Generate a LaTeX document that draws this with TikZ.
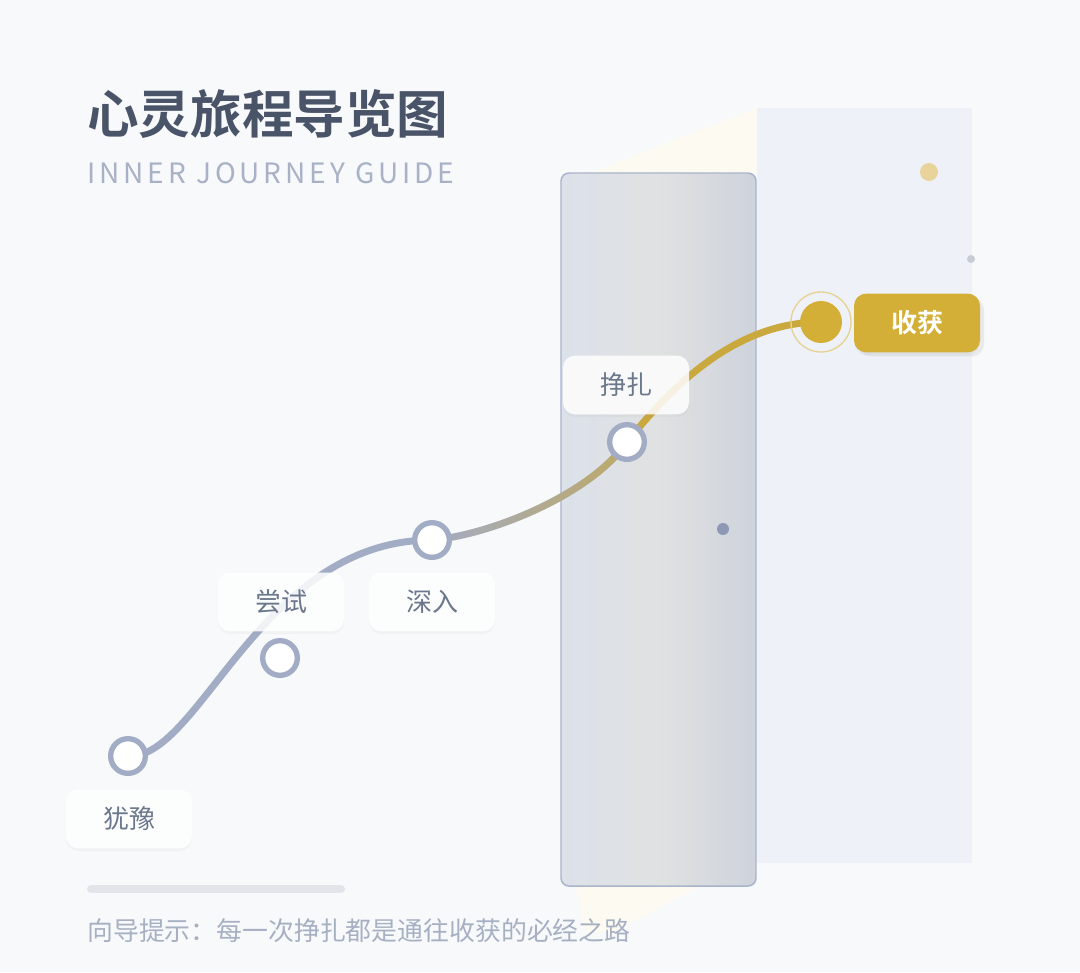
\documentclass[tikz,border=0pt]{standalone}
\usepackage{fontspec}
\usepackage{tikz}
\usetikzlibrary{positioning,shadows,fadings}

\newfontfamily\cjk{Noto Sans CJK SC}[BoldFont={Noto Sans CJK SC Bold}]
\newfontfamily\subfont{Noto Sans CJK SC}[LetterSpace=14]

\definecolor{bgpage}{HTML}{F7F9FB}
\definecolor{titleink}{HTML}{4A5468}
\definecolor{subink}{HTML}{A9B1C6}
\definecolor{panelpale}{HTML}{EEF2F8}
\definecolor{beam}{HTML}{FDFBF1}
\definecolor{glassedge}{HTML}{A9B4CB}
\definecolor{glassleft}{HTML}{DCE1EA}
\definecolor{glassmid}{HTML}{E0E1E1}
\definecolor{glassright}{HTML}{CED3DC}
\definecolor{pathgray}{HTML}{A3ACC5}
\definecolor{trailgold}{HTML}{C9A83E}
\definecolor{goldbox}{HTML}{D4AF37}
\definecolor{goldring}{HTML}{E6D291}
\definecolor{dotgold}{HTML}{E8D39B}
\definecolor{dotgray}{HTML}{C7CCD7}
\definecolor{dotslate}{HTML}{8D99B4}
\definecolor{labelink}{HTML}{6B778C}
\definecolor{footink}{HTML}{A7B0C3}
\definecolor{barink}{HTML}{E1E4E9}

\pgfdeclarelayer{bg}
\pgfdeclarelayer{mid}
\pgfsetlayers{bg,mid,main}

\tikzset{
  stagebox/.style={rectangle, rounded corners=9pt, fill=white, fill opacity=0.85, text opacity=1,
    minimum width=94.5pt, minimum height=44pt, text=labelink,
    font=\cjk\fontsize{19.5}{20}\selectfont,
    drop shadow={opacity=0.05, shadow xshift=0pt, shadow yshift=-2pt}},
  stopdot/.style={circle, fill=white, draw=pathgray, line width=4pt, minimum size=26pt, inner sep=0pt},
  trail/.style={line width=5.2pt, line cap=round}
}

\begin{document}
\begin{tikzpicture}[x=0.75pt, y=-0.75pt, every node/.style={font=\cjk}]
  \useasboundingbox (0,0) rectangle (1080,972);

  \begin{pgfonlayer}{bg}
    % Page and side panel
    \fill[bgpage] (0,0) rectangle (1080,972);
    \fill[panelpale] (757,108) rectangle (972,863);

    % Light beam
    \fill[beam] (590,173) -- (757,108) -- (757,173) -- cycle;
    \fill[beam] (575,886) -- (700,886) -- (612,932) -- (586,932) -- cycle;

    % Glass pane
    \draw[glassedge, line width=1.1pt, rounded corners=6pt,
      left color=glassleft, right color=glassright, middle color=glassmid] (561,173) rectangle (756,886);

    % Floating dots
    \fill[dotgold] (929,172) circle[radius=9];
    \fill[dotgray] (971,259) circle[radius=4];
    \fill[dotslate] (723,529) circle[radius=6];

    % Footer bar
    \draw[barink, line width=6pt, line cap=round] (91,889) -- (341,889);
  \end{pgfonlayer}

  % Title
  \node[anchor=base west, inner sep=0pt, text=titleink, font=\cjk\bfseries\fontsize{38.7}{44}\selectfont]
    (title) at (87,133) {心灵旅程导览图};
  \node[anchor=base west, inner sep=0pt, text=subink, font=\subfont\fontsize{21}{24}\selectfont]
    (subtitle) at (87,183) {INNER JOURNEY GUIDE};

  % Stops
  \node[stopdot] (hes) at (128,756) {};
  \node[stopdot] (try) at (280,658) {};
  \node[stopdot] (deep) at (432,540) {};
  \node[stopdot] (fight) at (627,442) {};
  \node[circle, draw=goldring, line width=1pt, minimum size=45pt, inner sep=0pt] (gainring) at (821,322) {};
  \node[circle, fill=goldbox, minimum size=31.5pt, inner sep=0pt] (gain) at (821,322) {};

  % Journey line
  \begin{pgfonlayer}{mid}
    \draw[trail, pathgray] (hes.center) .. controls (200,760) and (260,540) .. (deep.center);
    \draw[trail, pathgray] (deep.center) .. controls (490,535) and (590,495) .. (fight.center);
    \draw[trail, trailgold, opacity=0.7, path fading=west] (deep.center) .. controls (490,535) and (590,495) .. (fight.center);
    \draw[trail, trailgold] (fight.center) .. controls (665,395) and (730,322) .. (gain.center);
  \end{pgfonlayer}

  % Labels
  \node[stagebox] (hestag) at (129,819) {犹豫};
  \node[stagebox] (trytag) at (281,602) {尝试};
  \node[stagebox] (deeptag) at (432,602) {深入};
  \node[stagebox] (fighttag) at (626,385) {挣扎};
  \node[stagebox, fill=goldbox, fill opacity=1, text=white, font=\cjk\bfseries\fontsize{19.5}{20}\selectfont,
    drop shadow={opacity=0.12, shadow xshift=3pt, shadow yshift=-3pt}] (gaintag) at (917,323) {收获};

  % Footer
  \node[anchor=base west, inner sep=0pt, text=footink, font=\cjk\fontsize{19.4}{22}\selectfont]
    (hint) at (87,940) {向导提示：每一次挣扎都是通往收获的必经之路};
\end{tikzpicture}
\end{document}
